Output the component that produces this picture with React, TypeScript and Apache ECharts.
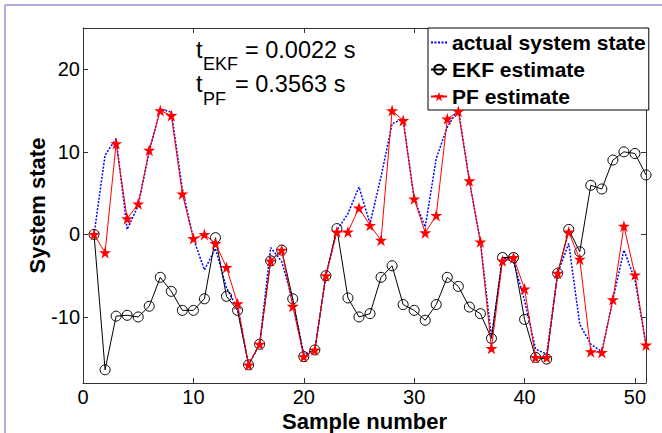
import React, { useEffect, useRef } from "react";
import * as echarts from "echarts";

const samples = [
  1, 2, 3, 4, 5, 6, 7, 8, 9, 10, 11, 12, 13, 14, 15, 16, 17, 18, 19, 20, 21, 22, 23, 24, 25, 26,
  27, 28, 29, 30, 31, 32, 33, 34, 35, 36, 37, 38, 39, 40, 41, 42, 43, 44, 45, 46, 47, 48, 49, 50, 51,
];

const actualState = [
  0, 9.6, 11.6, 0.6, 3.5, 10.0, 15.2, 14.8, 5.5, -0.5, -4.3, -1.7, -6.5, -9.0, -15.8, -13.3, -1.6,
  -3.3, -8.0, -14.5, -14.0, -5.0, 0.5, 2.5, 5.75, 1.3, 7.0, 13.4, 14.0, 4.3, 0.9, 9.2, 13.0, 15.2,
  6.5, -0.9, -12.5, -2.8, -3.3, -8.0, -13.9, -14.5, -4.7, -1.1, -10.9, -13.3, -14.2, -7.9, -1.9,
  -5.5, -13.4,
];

const ekfEstimate = [
  0, -16.4, -9.9, -9.8, -10.0, -8.7, -5.2, -6.9, -9.2, -9.2, -7.8, -0.4, -7.5, -9.2, -15.8, -13.3,
  -3.2, -1.9, -7.8, -14.8, -14.0, -5.0, 0.7, -7.7, -10.0, -9.6, -5.2, -3.8, -8.5, -9.2, -10.4, -8.5,
  -5.2, -6.3, -8.8, -9.6, -12.6, -2.8, -2.8, -10.3, -14.9, -15.1, -4.7, 0.6, -2.1, 5.95, 5.5, 9.0,
  10.0, 9.8, 7.2,
];

const pfEstimate = [
  0, -2.2, 11.0, 1.9, 3.7, 10.2, 15.0, 14.4, 4.9, -0.5, 0.0, -1.1, -4.0, -8.4, -15.8, -13.3, -3.2,
  -1.9, -8.7, -14.8, -14.0, -5.0, 0.3, 0.3, 3.2, 1.1, -0.7, 15.0, 13.8, 4.3, 0.2, 2.3, 14.0, 14.9,
  6.5, -0.9, -13.8, -3.2, -2.8, -6.6, -14.9, -14.9, -4.7, 0.3, -3.0, -14.2, -14.3, -7.9, 1.0, -4.9,
  -13.4,
];

const seriesNames = ["actual system state", "EKF estimate", "PF estimate"];
const xTitle = "Sample number";
const yTitle = "System state";
const timeEkf = "= 0.0022 s";
const timePf = "= 0.3563 s";

const STAR =
  "path://M50,0 L61.2,34.5 L97.6,34.5 L68.2,55.9 L79.4,90.5 L50,69.1 L20.6,90.5 L31.8,55.9 L2.4,34.5 L38.8,34.5 Z";

const FONT = "Arial, 'Liberation Sans', sans-serif";

export default function App() {
  const ref = useRef<HTMLDivElement>(null);

  useEffect(() => {
    if (!ref.current) return;
    const chart = echarts.init(ref.current, undefined, { renderer: "svg" });
    const pairs = (vals: number[]) => samples.map((s, i) => [s, vals[i]]);

    const axisLineStyle = { color: "#333", width: 1 };
    const tick = { show: true, inside: true, length: 5, lineStyle: { color: "#333" } };

    chart.setOption({
      animation: false,
      backgroundColor: "#fff",
      textStyle: { fontFamily: FONT },
      grid: {
        left: 83,
        right: 16,
        top: 28,
        bottom: 50,
        containLabel: false,
        outerBoundsMode: "none",
      },
      xAxis: [
        {
          type: "value",
          min: 0,
          max: 51,
          interval: 10,
          position: "bottom",
          axisLine: { show: true, onZero: false, lineStyle: axisLineStyle },
          axisTick: tick,
          splitLine: { show: false },
          axisLabel: {
            fontSize: 20,
            lineHeight: 18,
            color: "#000",
            margin: 5,
            showMaxLabel: false,
            fontFamily: FONT,
          },
          name: xTitle,
          nameLocation: "middle",
          nameGap: 30,
          nameMoveOverlap: false,
          nameTextStyle: {
            fontSize: 22,
            lineHeight: 16,
            fontWeight: "bold",
            color: "#000",
            fontFamily: FONT,
          },
        },
        {
          type: "value",
          min: 0,
          max: 51,
          interval: 10,
          position: "top",
          axisLine: { show: true, onZero: false, lineStyle: axisLineStyle },
          axisTick: tick,
          splitLine: { show: false },
          axisLabel: { show: false },
        },
      ],
      yAxis: [
        {
          type: "value",
          min: -18,
          max: 25,
          splitNumber: 4,
          position: "left",
          axisLine: { show: true, onZero: false, lineStyle: axisLineStyle },
          axisTick: tick,
          splitLine: { show: false },
          axisLabel: {
            fontSize: 20,
            color: "#000",
            margin: 3,
            showMinLabel: false,
            showMaxLabel: false,
            fontFamily: FONT,
          },
          name: yTitle,
          nameLocation: "middle",
          nameGap: 35,
          nameMoveOverlap: false,
          nameTextStyle: { fontSize: 22, fontWeight: "bold", color: "#000", fontFamily: FONT },
        },
        {
          type: "value",
          min: -18,
          max: 25,
          splitNumber: 4,
          position: "right",
          axisLine: { show: true, onZero: false, lineStyle: axisLineStyle },
          axisTick: tick,
          splitLine: { show: false },
          axisLabel: { show: false },
        },
      ],
      legend: {
        orient: "vertical",
        left: 428,
        top: 28,
        padding: [4, 3, 3, 2],
        itemGap: 6,
        itemWidth: 16,
        itemHeight: 12,
        backgroundColor: "#fff",
        borderColor: "#000",
        borderWidth: 1,
        borderRadius: 0,
        textStyle: { fontSize: 21, fontWeight: "bold", color: "#000", fontFamily: FONT },
        data: [
          { name: seriesNames[0], itemStyle: { opacity: 0 } },
          { name: seriesNames[1] },
          { name: seriesNames[2] },
        ],
      },
      series: [
        {
          name: seriesNames[0],
          type: "line",
          data: pairs(actualState),
          showSymbol: false,
          symbol: "none",
          lineStyle: { color: "#0000ff", width: 1.5, type: [2, 1.5] },
          itemStyle: { color: "#0000ff" },
          z: 2,
        },
        {
          name: seriesNames[1],
          type: "line",
          data: pairs(ekfEstimate),
          symbol: "circle",
          symbolSize: 10,
          lineStyle: { color: "#000", width: 1 },
          itemStyle: { color: "transparent", borderColor: "#000", borderWidth: 1 },
          z: 3,
        },
        {
          name: seriesNames[2],
          type: "line",
          data: pairs(pfEstimate),
          symbol: STAR,
          symbolSize: 12,
          lineStyle: { color: "#ff0000", width: 1 },
          itemStyle: { color: "#ff0000" },
          z: 4,
        },
      ],
      graphic: [
        {
          type: "line",
          shape: { x1: 5, y1: 5, x2: 662, y2: 5 },
          style: { stroke: "#9f8fd0", lineWidth: 1.5 },
        },
        {
          type: "line",
          shape: { x1: 5, y1: 5, x2: 5, y2: 433 },
          style: { stroke: "#9f8fd0", lineWidth: 1.5 },
        },
        {
          type: "text",
          x: 196,
          y: 50,
          style: { text: "t", font: `23.5px ${FONT}`, fill: "#000", verticalAlign: "middle" },
        },
        {
          type: "text",
          x: 203,
          y: 64,
          style: { text: "EKF", font: `18px ${FONT}`, fill: "#000", verticalAlign: "middle" },
        },
        {
          type: "text",
          x: 245,
          y: 50,
          style: { text: timeEkf, font: `23.5px ${FONT}`, fill: "#000", verticalAlign: "middle" },
        },
        {
          type: "text",
          x: 196,
          y: 84,
          style: { text: "t", font: `23.5px ${FONT}`, fill: "#000", verticalAlign: "middle" },
        },
        {
          type: "text",
          x: 203,
          y: 99,
          style: { text: "PF", font: `18px ${FONT}`, fill: "#000", verticalAlign: "middle" },
        },
        {
          type: "text",
          x: 235,
          y: 84,
          style: { text: timePf, font: `23.5px ${FONT}`, fill: "#000", verticalAlign: "middle" },
        },
      ],
    });

    return () => chart.dispose();
  }, []);

  return (
    <div
      ref={ref}
      style={{ position: "absolute", left: 0, top: 0, width: 662, height: 433 }}
    />
  );
}
